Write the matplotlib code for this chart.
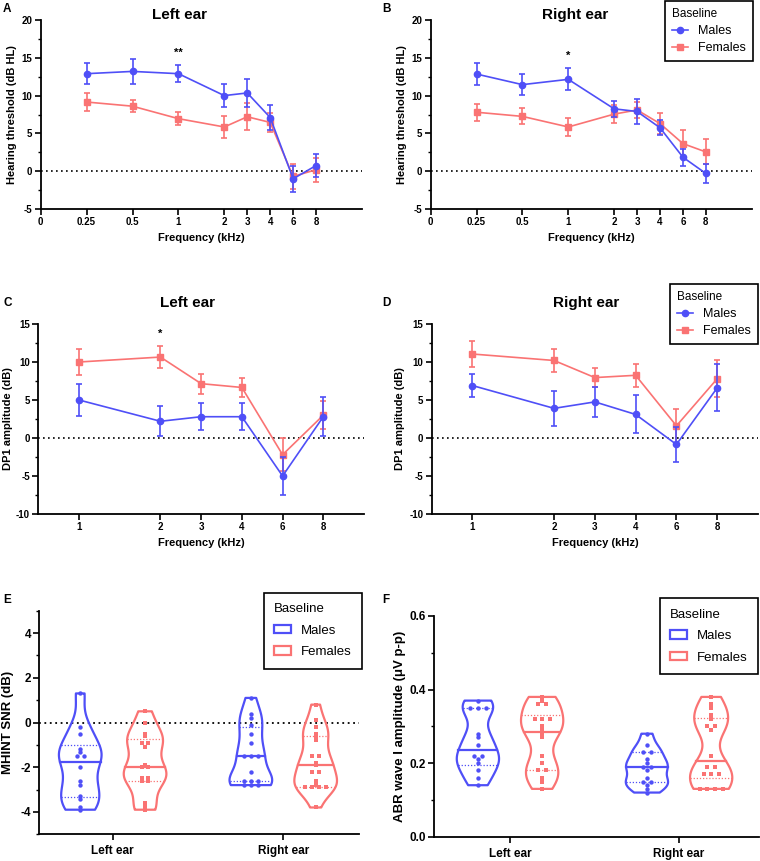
import matplotlib
matplotlib.use("Agg")
import matplotlib.pyplot as plt
import numpy as np
from matplotlib.lines import Line2D
from matplotlib.patches import Patch

plt.rcParams["font.family"] = ["Liberation Sans", "DejaVu Sans"]
plt.rcParams["font.weight"] = "bold"
plt.rcParams["axes.labelweight"] = "bold"
plt.rcParams["axes.unicode_minus"] = False

BLUE = "#4F4FF7"
RED = "#FA7373"

# ---- pure tone audiometry (A, B) ----
pta_freqs = ["0.25", "0.5", "1", "2", "3", "4", "6", "8"]
pta_left_m = [12.9, 13.2, 12.9, 10.0, 10.35, 7.1, -1.0, 0.75]
pta_left_m_err = [1.35, 1.6, 1.1, 1.55, 1.8, 1.7, 1.7, 1.5]
pta_left_f = [9.15, 8.6, 6.95, 5.85, 7.2, 6.45, -0.7, 0.2]
pta_left_f_err = [1.2, 0.8, 0.85, 1.4, 1.8, 1.3, 1.7, 1.6]
pta_right_m = [12.85, 11.45, 12.15, 8.25, 7.9, 5.75, 1.85, -0.3]
pta_right_m_err = [1.45, 1.35, 1.45, 1.1, 1.6, 1.0, 1.1, 1.3]
pta_right_f = [7.8, 7.25, 5.85, 7.55, 8.1, 6.3, 3.65, 2.55]
pta_right_f_err = [1.1, 1.05, 1.2, 1.2, 1.0, 1.4, 1.8, 1.65]

# ---- DPOAE (C, D) ----
dp_freqs = ["1", "2", "3", "4", "6", "8"]
dp_left_m = [5.0, 2.2, 2.8, 2.8, -5.0, 2.8]
dp_left_m_err = [2.1, 1.95, 1.75, 1.75, 2.5, 2.6]
dp_left_f = [10.0, 10.65, 7.15, 6.65, -2.2, 3.0]
dp_left_f_err = [1.7, 1.45, 1.3, 1.3, 2.15, 1.85]
dp_right_m = [6.9, 3.9, 4.75, 3.1, -0.85, 6.6]
dp_right_m_err = [1.55, 2.3, 1.95, 2.5, 2.3, 3.1]
dp_right_f = [11.05, 10.2, 7.95, 8.25, 1.6, 7.8]
dp_right_f_err = [1.7, 1.45, 1.2, 1.5, 2.2, 2.45]

# ---- MHINT (E) ----
ears = ["Left ear", "Right ear"]
mhint_left_m = [1.3, -0.2, -0.5, -1.2, -1.3, -1.5, -1.5, -2.0, -2.6, -2.8, -3.3, -3.4, -3.8, -3.9]
mhint_left_f = [0.5, 0.0, -0.5, -0.6, -0.9, -0.9, -1.1, -1.9, -2.0, -2.0, -2.5, -2.5, -2.6, -2.6,
                -3.6, -3.8, -3.9]
mhint_right_m = [1.1, 0.4, 0.2, -0.1, -0.5, -0.9, -1.5, -1.5, -1.5, -2.2, -2.6, -2.6, -2.6,
                 -2.8, -2.8, -2.8]
mhint_right_f = [0.8, 0.1, -0.2, -0.5, -0.6, -0.8, -1.5, -1.5, -1.8, -1.9, -2.2, -2.2, -2.6,
                 -2.8, -2.9, -2.9, -2.9, -2.9, -3.8]

# ---- ABR wave I (F) ----
abr_left_m = [0.37, 0.35, 0.35, 0.35, 0.28, 0.27, 0.25, 0.22, 0.22, 0.21, 0.20, 0.18, 0.16, 0.14]
abr_left_f = [0.38, 0.37, 0.36, 0.36, 0.32, 0.32, 0.32, 0.30, 0.29, 0.28, 0.27, 0.22, 0.20,
              0.18, 0.18, 0.16, 0.15, 0.13]
abr_right_m = [0.28, 0.25, 0.23, 0.23, 0.21, 0.20, 0.19, 0.19, 0.18, 0.16, 0.15, 0.15, 0.14,
               0.13, 0.12]
abr_right_f = [0.38, 0.36, 0.35, 0.33, 0.32, 0.30, 0.30, 0.29, 0.22, 0.19, 0.19, 0.17, 0.17,
               0.17, 0.13, 0.13, 0.13, 0.13]

# x layout of the frequency axes (3 and 6 kHz sit half way)
pta_pos = [1, 2, 3, 4, 4.5, 5, 5.5, 6]
dp_pos = [0, 2, 3, 4, 5, 6]

W, H = 760, 861
fig = plt.figure(figsize=(W / 100, H / 100), dpi=100)


def px_axes(l, t, r, b):
    return fig.add_axes([l / W, 1 - b / H, (r - l) / W, (b - t) / H])


def style(ax, fs):
    ax.spines["top"].set_visible(False)
    ax.spines["right"].set_visible(False)
    ax.spines["left"].set_linewidth(1.3)
    ax.spines["bottom"].set_linewidth(1.3)
    ax.tick_params(which="major", length=4, width=1.2, labelsize=fs, pad=2)
    ax.tick_params(which="minor", length=2.5, width=1.0)


def line_panel(ax, pos, m, me, f, fe):
    ax.axhline(0, color="black", ls=(0, (1, 2)), lw=1.2, zorder=1)
    ax.errorbar(pos, f, yerr=fe, color=RED, marker="s", ms=4, lw=1.2,
                elinewidth=1.2, capsize=2.5, capthick=1.2, zorder=2)
    ax.errorbar(pos, m, yerr=me, color=BLUE, marker="o", ms=4.5, lw=1.2,
                elinewidth=1.2, capsize=2.5, capthick=1.2, zorder=3)


def line_legend(ax, anchor):
    h = [Line2D([], [], color=BLUE, marker="o", ms=4.5, lw=1.2),
         Line2D([], [], color=RED, marker="s", ms=4, lw=1.2)]
    leg = ax.legend(h, ["Males", "Females"], title="Baseline", loc="upper right",
                    bbox_to_anchor=anchor, bbox_transform=fig.transFigure,
                    fancybox=False, framealpha=1, edgecolor="black", borderaxespad=0,
                    prop={"weight": "normal", "size": 9}, handlelength=1.3,
                    alignment="left", labelspacing=0.4, borderpad=0.55)
    leg.get_title().set_fontsize(8.5)
    leg.get_title().set_fontweight("normal")
    leg.get_frame().set_linewidth(1.2)
    leg.set_zorder(10)


def violin(ax, data, x, color, marker, step):
    data = np.array(data)
    parts = ax.violinplot([data], positions=[x], widths=0.25, showextrema=False,
                          bw_method=0.4)
    body = parts["bodies"][0]
    body.set_alpha(1)
    body.set_facecolor("none")
    body.set_edgecolor(color)
    body.set_linewidth(1.6)
    verts = body.get_paths()[0].vertices
    right = verts[verts[:, 0] > x]
    order = np.argsort(right[:, 1])
    ry, rx = right[order, 1], right[order, 0]
    q1, med, q3 = np.percentile(data, [25, 50, 75], method="weibull")
    hw = np.interp(med, ry, rx) - x
    ax.plot([x - hw, x + hw], [med, med], color=color, lw=1.6)
    for q in (q1, q3):
        hw = np.interp(q, ry, rx) - x
        ax.plot([x - hw, x + hw], [q, q], color=color, lw=0.9, ls=(0, (1, 1.5)))
    vals, counts = np.unique(data, return_counts=True)
    for v, c in zip(vals, counts):
        offs = (np.arange(c) - (c - 1) / 2) * step
        ax.scatter(x + offs, [v] * c, s=10, color=color, marker=marker, lw=0, zorder=4)


def violin_legend(ax, anchor):
    h = [Patch(facecolor="none", edgecolor=BLUE, lw=1.6),
         Patch(facecolor="none", edgecolor=RED, lw=1.6)]
    leg = ax.legend(h, ["Males", "Females"], title="Baseline", loc="upper right",
                    bbox_to_anchor=anchor, bbox_transform=fig.transFigure,
                    fancybox=False, framealpha=1, edgecolor="black", borderaxespad=0,
                    prop={"weight": "normal", "size": 9.5}, handlelength=1.3,
                    handleheight=0.6, handletextpad=0.7, alignment="left",
                    labelspacing=0.72, borderpad=0.8)
    leg.get_title().set_fontsize(9.5)
    leg.get_title().set_fontweight("normal")
    leg.get_frame().set_linewidth(1.2)


def title(text, x, y):
    fig.text(x / W, 1 - y / H, text, fontsize=11, fontweight="bold", ha="center", va="center")


# ---------- A ----------
axA = px_axes(40.7, 20, 362, 209)
line_panel(axA, pta_pos, pta_left_m, pta_left_m_err, pta_left_f, pta_left_f_err)
axA.text(pta_pos[2], 15.6, "**", ha="center", va="center", fontsize=8)
title("Left ear", 179, 15)
# ---------- B ----------
axB = px_axes(430.7, 20, 751.7, 209)
line_panel(axB, pta_pos, pta_right_m, pta_right_m_err, pta_right_f, pta_right_f_err)
axB.text(pta_pos[2], 15.3, "*", ha="center", va="center", fontsize=8)
line_legend(axB, (752.7 / W, 1 - 1 / H))
title("Right ear", 575, 15)
for ax, lx in ((axA, -0.074), (axB, -0.074)):
    ax.set_xlim(0, 7)
    ax.set_ylim(-5, 20)
    ax.set_xticks([0] + pta_pos)
    ax.set_xticklabels(["0"] + pta_freqs)
    ax.set_yticks(np.arange(-5, 21, 5))
    ax.set_yticks(np.arange(-5, 20, 2.5), minor=True)
    ax.set_xlabel("Frequency (kHz)", fontsize=8, labelpad=4)
    ax.set_ylabel("Hearing threshold (dB HL)", fontsize=8)
    ax.yaxis.set_label_coords(lx, 0.5)
    style(ax, 7)

# ---------- C ----------
axC = px_axes(38.3, 324, 364, 514)
line_panel(axC, dp_pos, dp_left_m, dp_left_m_err, dp_left_f, dp_left_f_err)
axC.text(dp_pos[1], 13.7, "*", ha="center", va="center", fontsize=8)
title("Left ear", 187, 302.7)
# ---------- D ----------
axD = px_axes(431.7, 324, 758, 514)
line_panel(axD, dp_pos, dp_right_m, dp_right_m_err, dp_right_f, dp_right_f_err)
line_legend(axD, (758 / W, 1 - 284 / H))
title("Right ear", 586, 302.7)
for ax, lx in ((axC, -0.079), (axD, -0.082)):
    ax.set_xlim(-1, 7)
    ax.set_ylim(-10, 15)
    ax.set_xticks(dp_pos)
    ax.set_xticklabels(dp_freqs)
    ax.set_yticks(np.arange(-10, 16, 5))
    ax.set_yticks(np.arange(-10, 15, 2.5), minor=True)
    ax.set_xlabel("Frequency (kHz)", fontsize=8, labelpad=4)
    ax.set_ylabel("DP1 amplitude (dB)", fontsize=8)
    ax.yaxis.set_label_coords(lx, 0.5)
    style(ax, 7)

# ---------- E ----------
axE = px_axes(39.3, 610.7, 359, 834.3)
axE.axhline(0, color="black", ls=(0, (1, 2)), lw=1.3, zorder=1)
for gi, (m, f) in enumerate(((mhint_left_m, mhint_left_f), (mhint_right_m, mhint_right_f))):
    violin(axE, m, gi - 0.19, BLUE, "o", 0.04)
    violin(axE, f, gi + 0.19, RED, "s", 0.04)
axE.set_xlim(-0.43, 1.444)
axE.set_ylim(-5, 5)
axE.set_yticks([-4, -2, 0, 2, 4])
axE.set_yticks([-5, -3, -1, 1, 3, 5], minor=True)
axE.set_ylabel("MHINT SNR (dB)", fontsize=9.5)
axE.yaxis.set_label_coords(-0.079, 0.5)
violin_legend(axE, (362 / W, 1 - 592.7 / H))

# ---------- F ----------
axF = px_axes(434.3, 616, 759, 836.7)
for gi, (m, f) in enumerate(((abr_left_m, abr_left_f), (abr_right_m, abr_right_f))):
    violin(axF, m, gi - 0.19, BLUE, "o", 0.045)
    violin(axF, f, gi + 0.19, RED, "s", 0.045)
axF.set_xlim(-0.448, 1.473)
axF.set_ylim(0, 0.6)
axF.set_yticks([0, 0.2, 0.4, 0.6])
axF.set_yticks([0.1, 0.3, 0.5], minor=True)
axF.set_ylabel("ABR wave I amplitude (\u03bcV p-p)", fontsize=9.5)
axF.yaxis.set_label_coords(-0.087, 0.5)
violin_legend(axF, (758 / W, 1 - 598 / H))

for ax in (axE, axF):
    ax.set_xticks([0, 1])
    ax.set_xticklabels(ears)
    style(ax, 8.5)
    ax.tick_params(axis="x", labelsize=8.5, pad=4)

# panel letters
for letter, x, y in (("A", 3, 9), ("B", 382, 9), ("C", 3, 303), ("D", 382, 303),
                     ("E", 3, 600), ("F", 382, 600)):
    fig.text(x / W, 1 - y / H, letter, fontsize=8.5, fontweight="bold", ha="left", va="center")

fig.savefig("out.png", dpi=100)
